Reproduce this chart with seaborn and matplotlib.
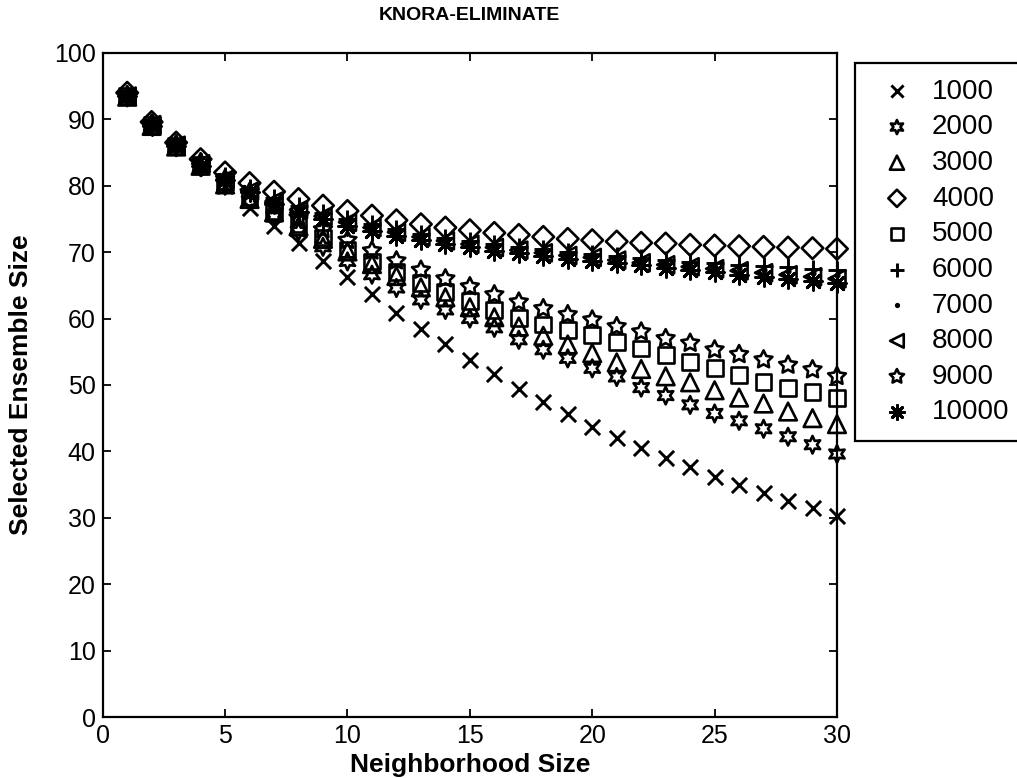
import numpy as np
import pandas as pd
import matplotlib
matplotlib.use("Agg")
import matplotlib.pyplot as plt
import seaborn as sns

neighborhood = list(range(1, 31))
series_names = ["1000", "2000", "3000", "4000", "5000", "6000", "7000", "8000", "9000", "10000"]

s1000 = [93.5, 89.0, 86.0, 83.0, 80.0, 76.7, 74.0, 71.4, 68.7, 66.3, 63.7, 60.9, 58.5, 56.1, 53.7,
         51.6, 49.4, 47.5, 45.6, 43.6, 42.0, 40.5, 39.0, 37.6, 36.2, 34.9, 33.7, 32.5, 31.4, 30.3]
s2000 = [93.3, 89.0, 85.8, 82.8, 80.0, 77.7, 75.3, 73.1, 70.8, 68.6, 66.6, 64.6, 62.8, 61.3, 60.0,
         58.6, 56.8, 55.3, 54.0, 52.5, 51.2, 49.6, 48.4, 47.0, 45.7, 44.6, 43.4, 42.2, 41.0, 39.6]
s3000 = [93.4, 89.0, 85.9, 83.0, 80.2, 78.0, 76.0, 73.9, 72.0, 70.1, 68.2, 66.4, 64.7, 63.2, 61.7,
         60.2, 58.8, 57.4, 56.1, 54.8, 53.4, 52.4, 51.3, 50.4, 49.2, 48.1, 47.2, 46.0, 45.0, 44.1]
s4000 = [94.0, 89.6, 86.5, 84.0, 82.0, 80.4, 79.1, 78.0, 77.0, 76.2, 75.5, 74.8, 74.2, 73.7, 73.3,
         72.9, 72.6, 72.3, 72.0, 71.8, 71.6, 71.4, 71.3, 71.1, 71.0, 70.9, 70.8, 70.7, 70.6, 70.5]
s5000 = [93.5, 89.2, 86.0, 83.2, 80.5, 78.3, 76.2, 74.2, 72.2, 70.4, 68.6, 67.0, 65.4, 64.0, 62.6,
         61.3, 60.1, 59.1, 58.3, 57.5, 56.5, 55.5, 54.5, 53.4, 52.5, 51.5, 50.5, 49.6, 48.9, 48.0]
s6000 = [93.6, 89.4, 86.3, 83.6, 81.4, 79.6, 78.1, 76.9, 75.9, 75.0, 74.2, 73.5, 72.8, 72.2, 71.7,
         71.2, 70.8, 70.4, 70.0, 69.7, 69.4, 69.1, 68.8, 68.5, 68.3, 68.1, 67.9, 67.7, 67.5, 67.3]
s7000 = [93.6, 89.3, 86.2, 83.4, 81.2, 79.4, 77.9, 76.6, 75.6, 74.7, 73.9, 73.2, 72.5, 71.9, 71.4,
         70.9, 70.5, 70.1, 69.7, 69.4, 69.1, 68.7, 68.4, 68.1, 67.8, 67.6, 67.3, 67.1, 66.8, 66.6]
s8000 = [93.5, 89.2, 86.1, 83.3, 81.0, 79.2, 77.7, 76.4, 75.4, 74.5, 73.7, 73.0, 72.3, 71.7, 71.2,
         70.7, 70.3, 69.9, 69.5, 69.2, 68.8, 68.4, 68.1, 67.8, 67.5, 67.2, 66.9, 66.6, 66.3, 66.0]
s9000 = [93.6, 89.3, 86.2, 83.5, 81.0, 79.0, 77.0, 75.2, 73.4, 71.8, 70.2, 68.7, 67.3, 66.0, 64.8,
         63.6, 62.5, 61.5, 60.6, 59.8, 58.8, 58.0, 57.0, 56.3, 55.3, 54.6, 53.8, 53.0, 52.3, 51.3]
s10000 = [93.5, 89.0, 86.0, 83.0, 80.8, 79.0, 77.3, 76.0, 75.0, 74.0, 73.2, 72.5, 71.8, 71.2, 70.7,
          70.2, 69.8, 69.4, 69.0, 68.7, 68.3, 68.0, 67.6, 67.3, 67.0, 66.6, 66.3, 66.0, 65.7, 65.3]

values = [s1000, s2000, s3000, s4000, s5000, s6000, s7000, s8000, s9000, s10000]

df = pd.DataFrame({
    "Neighborhood Size": np.tile(neighborhood, len(series_names)),
    "Selected Ensemble Size": np.concatenate(values),
    "series": np.repeat(series_names, len(neighborhood)),
})

sns.set_style("ticks")
plt.rcParams["font.family"] = ["Liberation Sans", "DejaVu Sans"]
plt.rcParams["text.color"] = "black"
plt.rcParams["axes.labelcolor"] = "black"
plt.rcParams["xtick.color"] = "black"
plt.rcParams["ytick.color"] = "black"

fig = plt.figure(figsize=(10.17, 7.78), dpi=100)
ax = fig.add_axes([0.101, 0.0784, 0.722, 0.8536])

# (marker, filled?, size)
styles = {
    "1000": ("x", False, 120),
    "2000": ((6, 1, 0), True, 160),
    "3000": ("^", True, 160),
    "4000": ("D", True, 120),
    "5000": ("s", True, 130),
    "6000": ("+", False, 160),
    "7000": ("o", "solid", 12),
    "8000": ("<", True, 150),
    "9000": ((5, 1, 0), True, 180),
    "10000": ((8, 2, 0), False, 160),
}

for name in series_names:
    sub = df[df["series"] == name]
    m, filled, s = styles[name]
    if filled is True:
        sns.scatterplot(data=sub, x="Neighborhood Size", y="Selected Ensemble Size",
                        marker=m, s=s, facecolor="none", edgecolor="black",
                        linewidth=1.9, ax=ax, label=name, clip_on=False, zorder=3)
    elif filled == "solid":
        sns.scatterplot(data=sub, x="Neighborhood Size", y="Selected Ensemble Size",
                        marker=m, s=s, color="black", edgecolor="black",
                        linewidth=1, ax=ax, label=name, clip_on=False, zorder=3)
    else:
        sns.scatterplot(data=sub, x="Neighborhood Size", y="Selected Ensemble Size",
                        marker=m, s=s, color="black",
                        linewidth=2.1, ax=ax, label=name, clip_on=False, zorder=3)

ax.set_xlim(0, 30)
ax.set_ylim(0, 100)
ax.set_xticks(range(0, 31, 5))
ax.set_yticks(range(0, 101, 10))
ax.tick_params(direction="in", length=6, width=1.3, top=True, right=True,
               labelsize=18, colors="black", pad=5)
for sp in ax.spines.values():
    sp.set_visible(True)
    sp.set_linewidth(1.6)
    sp.set_color("black")

ax.set_xlabel("Neighborhood Size", fontsize=19, fontweight="bold")
ax.xaxis.set_label_coords(0.5, -0.054)
ax.set_ylabel("Selected Ensemble Size", fontsize=19, fontweight="bold")
ax.yaxis.set_label_coords(-0.0954, 0.5)
ax.set_title("KNORA-ELIMINATE", fontsize=14, fontweight="bold", pad=24)

leg = ax.legend(loc="upper left", bbox_to_anchor=(1.0245, 0.985), borderaxespad=0,
                fontsize=20, frameon=True, fancybox=False, edgecolor="black", framealpha=1,
                handletextpad=0.32, labelspacing=0.347, borderpad=0.57, markerscale=0.8,
                handlelength=1.88)
leg.get_frame().set_linewidth(1.6)

fig.savefig("out.png", dpi=100, facecolor="white")
